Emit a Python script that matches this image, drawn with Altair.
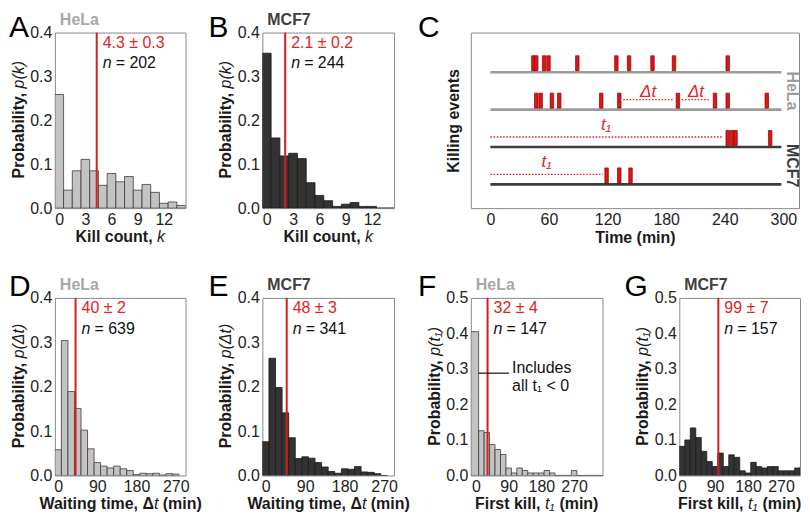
import altair as alt
import pandas as pd

FONT = "Liberation Sans"
RED = "#d71d1d"
RED_TEXT = "#e02424"
HELA_FILL = "#c3c3c3"
HELA_STROKE = "#3c3c3c"
MCF7_FILL = "#333333"
MCF7_STROKE = "#1c1c1c"
HELA_TITLE = "#a8a8a8"
MCF7_TITLE = "#404040"
TITLE_COLOR = "#1a1a1a"

# ---------------- data ----------------
kill_counts = list(range(15))
hela_kill_prob = [0.259, 0.041, 0.085, 0.111, 0.085, 0.052, 0.079, 0.060, 0.072,
                  0.041, 0.054, 0.036, 0.011, 0.014, 0.006]
mcf7_kill_prob = [0.353, 0.160, 0.119, 0.125, 0.113, 0.058, 0.029, 0.017, 0.004,
                  0.009, 0.013, 0.004, 0.004, 0.0, 0.0]

wait_bins = [0, 15, 30, 45, 60, 75, 90, 105, 120, 135, 150, 165, 180, 195, 210,
             225, 240, 255, 270]
hela_wait_prob = [0.058, 0.304, 0.189, 0.151, 0.102, 0.060, 0.029, 0.021, 0.017,
                  0.021, 0.015, 0.011, 0.002, 0.005, 0.004, 0.005, 0.001, 0.004, 0.003]
mcf7_wait_prob = [0.076, 0.264, 0.198, 0.141, 0.085, 0.038, 0.042, 0.039, 0.029,
                  0.019, 0.009, 0.005, 0.015, 0.014, 0.020, 0.008, 0.007, 0.004, 0.0]

first_bins = [0, 15, 30, 45, 60, 75, 90, 105, 120, 135, 150, 165, 180, 195, 210,
              225, 240, 255, 270, 285, 300, 315, 330, 345]
hela_first_prob = [0.405, 0.126, 0.121, 0.087, 0.073, 0.059, 0.021, 0.007, 0.021,
                   0.014, 0.007, 0.007, 0.007, 0.014, 0.007, 0.0, 0.0, 0.0, 0.014,
                   0.0, 0.0, 0.0, 0.0, 0.0]
mcf7_first_prob = [0.082, 0.100, 0.134, 0.107, 0.068, 0.039, 0.025, 0.063, 0.025,
                   0.058, 0.051, 0.013, 0.007, 0.037, 0.025, 0.021, 0.025, 0.025,
                   0.013, 0.013, 0.013, 0.021, 0.025, 0.025]

# panel C: example killing-event trains (min)
train_rows = [4, 3, 2, 1]
train_cells = ["HeLa", "HeLa", "MCF7", "MCF7"]
train_start = [0, 0, 0, 0]
train_end = [298, 298, 298, 298]
train_events = [
    [44, 47, 55, 59.5, 89, 129, 142, 166, 188, 243],
    [47, 51.5, 63, 70.5, 113.5, 132, 192, 230, 243, 283],
    [243, 247.5, 251, 286.5],
    [119, 132, 143.5],
]
gap_rows = [3, 3]
gap_start = [136, 196]
gap_end = [187, 225]
first_rows = [2, 1]
first_start = [0, 0]
first_end = [237, 115]
cell_label_rows = [3.5, 1.5]
cell_label_x = [309, 309]
cell_names = ["HeLa", "MCF7"]

# axis titles: (text, "b" bold | "i" italic, gap in spaces before the piece)
t_kill = [("Kill count,", "b", 0), ("k", "i", 1)]
t_wait = [("Waiting time, \u0394", "b", 0), ("t", "i", 0), ("(min)", "b", 1)]
t_first = [("First kill,", "b", 0), ("t\u2081", "i", 1), ("(min)", "b", 1)]
t_pk = [("Probability,", "b", 0), ("p(k)", "i", 1)]
t_pdt = [("Probability,", "b", 0), ("p(\u0394t)", "i", 1)]
t_pt1 = [("Probability,", "b", 0), ("p(t\u2081)", "i", 1)]

TOP_LETTER_DY = 4
BOTTOM_LETTER_DY = -2
NAME_DY = -8
SPACE_W = 4.45

# Arial / Liberation Sans advance widths (per 1000 em), for joining styled title pieces
BOLD_W = {" ": 278, ",": 278, "(": 333, ")": 333, "K": 722, "W": 944, "F": 611,
          "P": 667, "a": 556, "b": 611, "c": 556, "e": 556, "g": 611, "i": 278, "k": 556,
          "l": 278, "m": 889, "n": 611, "o": 611, "r": 389, "s": 556, "t": 333, "u": 611,
          "y": 556, "\u0394": 722}
REG_W = {"p": 556, "k": 500, "t": 278, "(": 333, ")": 333, "\u0394": 668, "\u2081": 350}


def text_w(s, kind, size=16):
    tbl = BOLD_W if kind == "b" else REG_W
    return sum(tbl.get(ch, 556) for ch in s) * size / 1000.0


def piece(text, kind, align, x, y, angle=0):
    return alt.Chart(pd.DataFrame({"t": [text]})).mark_text(
        align=align, baseline="alphabetic", fontSize=16, font=FONT, angle=angle,
        fontWeight="bold" if kind == "b" else "normal",
        fontStyle="italic" if kind == "i" else "normal", color=TITLE_COLOR
    ).encode(x=alt.value(x), y=alt.value(y), text="t:N")


def x_title(parts, width, height):
    ws = [text_w(t, k) + g * SPACE_W for t, k, g in parts]
    junction = width / 2 - sum(ws) / 2 + ws[0]
    out = [piece(parts[0][0], parts[0][1], "right", junction, height + 34)]
    pos = junction
    for (t, k, g), w in zip(parts[1:], ws[1:]):
        out.append(piece(t, k, "left", pos + g * SPACE_W, height + 34))
        pos += w
    return out


def y_title(parts, width, height):
    ws = [text_w(t, k) + g * SPACE_W for t, k, g in parts]
    junction = height / 2 + sum(ws) / 2 - ws[0]
    out = [piece(parts[0][0], parts[0][1], "right", -31, junction, angle=270)]
    pos = junction
    for (t, k, g), w in zip(parts[1:], ws[1:]):
        out.append(piece(t, k, "left", -31, pos - g * SPACE_W, angle=270))
        pos -= w
    return out


def corner_text(text, dx, dy, size, color, weight="normal", style="normal"):
    return alt.Chart(pd.DataFrame({"t": [text]})).mark_text(
        align="left", baseline="alphabetic", dx=dx, dy=dy, fontSize=size,
        color=color, fontWeight=weight, fontStyle=style, font=FONT
    ).encode(x=alt.value(0), y=alt.value(0), text="t:N")


def hist_panel(centers, probs, half, x_lo, x_hi, y_hi, x_ticks, y_ticks, fill, stroke,
               mean, mean_label, n_value, xt, yt, letter, letter_dx, letter_dy,
               cell, cell_color, width, height, first_left=None, extra=()):
    starts = [c - half for c in centers]
    if first_left is not None:
        starts[0] = first_left
    ends = [c + half for c in centers]
    df = pd.DataFrame({"start": starts, "end": ends, "p": probs, "base": [0.0] * len(probs)})
    xs = alt.Scale(domain=[x_lo, x_hi], nice=False, zero=False)
    ys = alt.Scale(domain=[0, y_hi], nice=False)
    xaxis = alt.Axis(values=x_ticks, title=None, labelFlush=False)
    yaxis = alt.Axis(values=y_ticks, format=".1f", title=None, labelFlush=False)

    bars = alt.Chart(df).mark_bar(fill=fill, stroke=stroke, strokeWidth=0.8, clip=True).encode(
        x=alt.X("start:Q", scale=xs, axis=xaxis), x2="end:Q",
        y=alt.Y("p:Q", scale=ys, axis=yaxis), y2="base:Q")
    mdf = pd.DataFrame({"m": [mean], "top": [y_hi], "t": [mean_label], "n": ["n"],
                        "nv": ["= " + n_value]})
    rule = alt.Chart(mdf).mark_rule(color=RED, strokeWidth=2).encode(
        x=alt.X("m:Q", scale=xs, axis=xaxis))
    enc = dict(x=alt.X("m:Q", scale=xs, axis=xaxis), y=alt.Y("top:Q", scale=ys, axis=yaxis))
    mtxt = alt.Chart(mdf).mark_text(align="left", baseline="alphabetic", dx=6, dy=15,
                                    fontSize=16, color=RED_TEXT).encode(text="t:N", **enc)
    ntxt = alt.Chart(mdf).mark_text(align="left", baseline="alphabetic", dx=6, dy=36,
                                    fontSize=16, color="#111", fontStyle="italic").encode(text="n:N", **enc)
    nvtxt = alt.Chart(mdf).mark_text(align="left", baseline="alphabetic", dx=19, dy=36,
                                     fontSize=16, color="#111").encode(text="nv:N", **enc)
    layers = [bars, rule, mtxt, ntxt, nvtxt]
    for e in extra:
        layers.append(e(xs, ys, xaxis, yaxis))
    layers += x_title(xt, width, height)
    layers += y_title(yt, width, height)
    layers.append(corner_text(letter, letter_dx, letter_dy, 30, "black"))
    layers.append(corner_text(cell, 5, NAME_DY, 16, cell_color, weight="bold"))
    return alt.layer(*layers).properties(width=width, height=height)


def includes_note(xs, ys, xaxis, yaxis):
    ndf = pd.DataFrame({"x0": [7.5], "x1": [91], "y": [0.288],
                        "l1": ["Includes"], "l2": ["all t\u2081 < 0"]})
    line = alt.Chart(ndf).mark_rule(color="#111", strokeWidth=1.2).encode(
        x=alt.X("x0:Q", scale=xs, axis=xaxis), x2="x1:Q", y=alt.Y("y:Q", scale=ys, axis=yaxis))
    t1 = alt.Chart(ndf).mark_text(align="left", baseline="alphabetic", dx=3, dy=0,
                                  fontSize=16, color="#111").encode(
        x=alt.X("x1:Q", scale=xs, axis=xaxis), y=alt.Y("y:Q", scale=ys, axis=yaxis), text="l1:N")
    t2 = alt.Chart(ndf).mark_text(align="left", baseline="alphabetic", dx=3, dy=18,
                                  fontSize=16, color="#111").encode(
        x=alt.X("x1:Q", scale=xs, axis=xaxis), y=alt.Y("y:Q", scale=ys, axis=yaxis), text="l2:N")
    return alt.layer(line, t1, t2)


kill_ticks = [0, 3, 6, 9, 12]
min_ticks = [0, 90, 180, 270]
p4 = [0.0, 0.1, 0.2, 0.3, 0.4]
p5 = [0.0, 0.1, 0.2, 0.3, 0.4, 0.5]

A = hist_panel(kill_counts, hela_kill_prob, 0.5, -0.5, 14.5, 0.4, kill_ticks, p4,
               HELA_FILL, HELA_STROKE, 4.3, "4.3 \u00b1 0.3", "202",
               t_kill, t_pk, "A", -46, TOP_LETTER_DY, "HeLa", HELA_TITLE, 131, 176)
B = hist_panel(kill_counts, mcf7_kill_prob, 0.5, -0.5, 14.5, 0.4, kill_ticks, p4,
               MCF7_FILL, MCF7_STROKE, 2.1, "2.1 \u00b1 0.2", "244",
               t_kill, t_pk, "B", -54, TOP_LETTER_DY, "MCF7", MCF7_TITLE, 132, 176)
D = hist_panel(wait_bins, hela_wait_prob, 7.5, -7.5, 292.5, 0.4, min_ticks, p4,
               HELA_FILL, HELA_STROKE, 40, "40 \u00b1 2", "639",
               t_wait, t_pdt, "D", -46, BOTTOM_LETTER_DY, "HeLa", HELA_TITLE, 131, 178)
E = hist_panel(wait_bins, mcf7_wait_prob, 7.5, -7.5, 292.5, 0.4, min_ticks, p4,
               MCF7_FILL, MCF7_STROKE, 48, "48 \u00b1 3", "341",
               t_wait, t_pdt, "E", -54, BOTTOM_LETTER_DY, "MCF7", MCF7_TITLE, 132, 178)
F = hist_panel(first_bins, hela_first_prob, 7.5, -14, 348, 0.5, min_ticks, p5,
               HELA_FILL, HELA_STROKE, 32, "32 \u00b1 4", "147",
               t_first, t_pt1, "F", -53, BOTTOM_LETTER_DY, "HeLa", HELA_TITLE, 132, 178,
               first_left=-14, extra=(includes_note,))
G = hist_panel(first_bins, mcf7_first_prob, 7.5, -7.5, 322, 0.5, min_ticks, p5,
               MCF7_FILL, MCF7_STROKE, 99, "99 \u00b1 7", "157",
               t_first, t_pt1, "G", -55, BOTTOM_LETTER_DY, "MCF7", MCF7_TITLE, 121, 178)

# ---------------- panel C ----------------
cxs = alt.Scale(domain=[-20, 316], nice=False, zero=False)
cys = alt.Scale(domain=[0.365, 5.06], nice=False, zero=False)
cxaxis = alt.Axis(values=[0, 60, 120, 180, 240, 300], title="Time (min)", labelFlush=False,
                  titlePadding=2)
cyaxis = alt.Axis(title="Killing events", labels=False, ticks=False, grid=False,
                  domain=False, titlePadding=9, values=[])
cell_color = alt.Color("cell:N", scale=alt.Scale(domain=["HeLa", "MCF7"],
                                                 range=["#9c9c9c", "#3c3c3c"]), legend=None)

lines_df = pd.DataFrame({"row": train_rows, "cell": train_cells,
                         "start": train_start, "end": train_end})
ev_rows, ev_t = [], []
for r, evs in zip(train_rows, train_events):
    for t in evs:
        ev_rows.append(r)
        ev_t.append(t)
ev_df = pd.DataFrame({"row": ev_rows, "t": ev_t})
gap_df = pd.DataFrame({"row": gap_rows, "start": gap_start, "end": gap_end,
                       "lab": ["\u0394t"] * len(gap_rows)})
fst_df = pd.DataFrame({"row": first_rows, "start": first_start, "end": first_end,
                       "lab": ["t\u2081"] * len(first_rows)})
lab_df = pd.DataFrame({"x": cell_label_x, "row": cell_label_rows, "cell": cell_names})

cx = lambda f: alt.X(f, type="quantitative", scale=cxs, axis=cxaxis)
cy = lambda f: alt.Y(f, type="quantitative", scale=cys, axis=cyaxis)

c_lines = alt.Chart(lines_df).mark_rule(strokeWidth=2.6).encode(
    x=cx("start"), x2="end", y=cy("row"), color=cell_color)
c_events = alt.Chart(ev_df).mark_tick(orient="vertical", size=15, thickness=3.5,
                                      color="#dd1515", stroke="#8a0000", strokeWidth=0.7,
                                      opacity=1, yOffset=-9).encode(x=cx("t"), y=cy("row"))
dots = []
for dfx, ddy in ((gap_df, -13), (fst_df, -17)):
    dots.append(alt.Chart(dfx).mark_rule(color="#e02424", strokeWidth=1.4, strokeDash=[1.6, 1.6],
                                         yOffset=-10).encode(x=cx("start"), x2="end", y=cy("row")))
    dots.append(alt.Chart(dfx).transform_calculate(mid="(datum.start + datum.end) / 2").mark_text(
        fontSize=17, fontStyle="italic", color="#e02424", baseline="alphabetic", dy=ddy).encode(
        x=cx("mid"), y=cy("row"), text="lab:N"))
c_cells = alt.Chart(lab_df).mark_text(angle=90, fontSize=16, fontWeight="bold",
                                      baseline="middle", align="center").encode(
    x=cx("x"), y=cy("row"), text="cell:N", color=cell_color)
C = alt.layer(c_lines, c_events, *dots, c_cells,
              corner_text("C", -53, TOP_LETTER_DY, 30, "black")).properties(width=329, height=176)

top = alt.hconcat(A, B, C, spacing=77, bounds="flush")
bottom = alt.hconcat(D, E, F, G, spacing=77, bounds="flush")

chart = alt.vconcat(top, bottom, spacing=25).properties(
    padding={"left": 0, "top": 2, "right": 0, "bottom": 0}
).configure(
    font=FONT, background="white"
).configure_view(stroke="#8a8a8a", strokeWidth=1).configure_axis(
    labelFontSize=16, labelColor="#222", titleFontSize=16, titleFontWeight="bold",
    titleColor=TITLE_COLOR, ticks=False, domain=False, grid=False, labelPadding=3,
    labelFont=FONT, titleFont=FONT
)

chart.save("out.html", embed_options={"renderer": "svg", "actions": False})
